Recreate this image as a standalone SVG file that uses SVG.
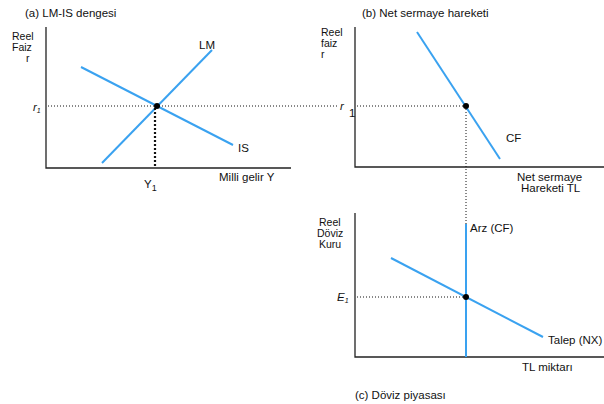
<svg xmlns="http://www.w3.org/2000/svg" width="604" height="404" viewBox="0 0 604 404">
<style>
text{font-family:"Liberation Sans",Arial,sans-serif;font-size:11.5px;fill:#111}
.ax{stroke:#222;stroke-width:1.3;fill:none}
.cv{stroke:#3aa2f0;stroke-width:2;fill:none}
.dt{stroke:#111;stroke-width:1;stroke-dasharray:1 2;fill:none}
.dtb{stroke:#111;stroke-width:2.2;stroke-dasharray:2 2;fill:none}
.it{font-style:italic}
.ax-l{font-size:10.5px}
</style>
<rect width="604" height="404" fill="#fff"/>
<g id="panel-a">
<text x="25" y="17">(a) LM-IS dengesi</text>
<path class="ax" d="M46,27 V168 H291"/>
<text class="ax-l" x="12" y="40">Reel</text>
<text class="ax-l" x="12" y="51">Faiz</text>
<text class="ax-l" x="26" y="62">r</text>
<text class="it" x="33" y="111">r<tspan font-size="7" dy="2">1</tspan></text>
<text x="144" y="188">Y<tspan font-size="9" dy="3">1</tspan></text>
<text x="219" y="181">Milli gelir Y</text>
</g>
<g id="panel-b">
<text x="362" y="17">(b) Net sermaye hareketi</text>
<path class="ax" d="M355,27 V167 H604"/>
<text class="ax-l" x="321" y="36">Reel</text>
<text class="ax-l" x="321" y="47">faiz</text>
<text class="ax-l" x="321" y="58">r</text>
<text class="it" x="340" y="110">r</text>
<text x="349" y="117">1</text>
<text x="517" y="181">Net sermaye</text>
<text x="521" y="192">Hareketi TL</text>
</g>
<g id="panel-c">
<path class="ax" d="M355,213 V357 H604"/>
<text class="ax-l" x="319" y="226">Reel</text>
<text class="ax-l" x="317" y="237">Döviz</text>
<text class="ax-l" x="319" y="248">Kuru</text>
<text class="it" x="337" y="301">E<tspan font-size="7" dy="2">1</tspan></text>
<text x="522" y="371">TL miktarı</text>
<text x="355" y="399">(c) Döviz piyasası</text>
</g>
<g id="curves">
<line id="LM" class="cv" x1="102" y1="163" x2="212" y2="50"/>
<text x="199" y="49">LM</text>
<line id="IS" class="cv" x1="81" y1="67" x2="233" y2="145"/>
<text x="238" y="152">IS</text>
<line id="CF" class="cv" x1="417" y1="32" x2="500" y2="159"/>
<text x="506" y="142">CF</text>
<line id="supply" class="cv" x1="466" y1="224" x2="466" y2="357"/>
<text x="470" y="232">Arz (CF)</text>
<line id="demand" class="cv" x1="391" y1="258" x2="543" y2="337"/>
<text x="548" y="344">Talep (NX)</text>
</g>
<g id="connectors">
<line class="dt" x1="48" y1="106" x2="339" y2="106"/>
<line class="dt" x1="357" y1="106" x2="466" y2="106"/>
<line class="dtb" x1="155" y1="108" x2="155" y2="166"/>
<line class="dt" x1="466" y1="106" x2="466" y2="224"/>
<line class="dt" x1="357" y1="297" x2="466" y2="297"/>
</g>
<g id="points" fill="#000">
<circle cx="157" cy="106" r="3"/>
<circle cx="466" cy="106" r="3"/>
<circle cx="466" cy="297" r="3"/>
</g>
</svg>
